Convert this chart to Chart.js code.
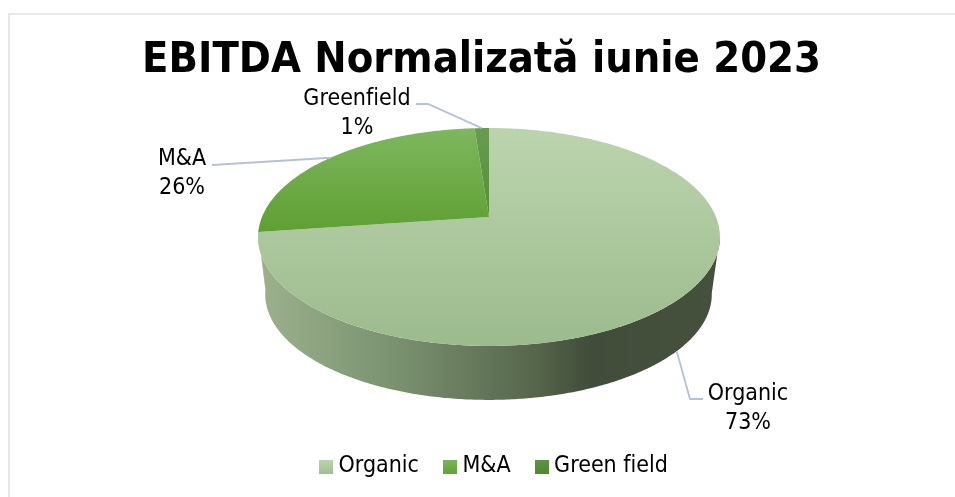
<!DOCTYPE html>
<html>
<head>
<meta charset="utf-8">
<title>EBITDA Normalizată iunie 2023</title>
<script src="https://cdn.jsdelivr.net/npm/chart.js@4"></script>
<style>
    html, body { margin: 0; padding: 0; background: #fff; overflow: hidden; }
    #cadru { position: absolute; left: 8px; top: 13px; right: 0; bottom: 0; border-left: 2px solid #e6e8ec; border-top: 2px solid #e6e8ec; }
    #grafic { position: absolute; left: 0; top: 0; }
</style>
</head>
<body>
<div id="cadru"></div>
<canvas id="grafic" width="955" height="497"></canvas>
<script>
const titlu = 'EBITDA Normalizată iunie 2023';
const categorii = ['Organic', 'M&A', 'Green field'];
const etichete = ['Organic', 'M&A', 'Greenfield'];
const valori = [72.8, 26, 1.2];

const FONT = '"DejaVu Sans Condensed", "DejaVu Sans", sans-serif';
const culoriSus = [['#bcd4ae', '#9cbb8d'], ['#7eb75f', '#5f9f32'], ['#689b51', '#548f37']];
const culoriLegenda = [['#bcd4ae', '#a2bf92'], ['#7ab659', '#62a336'], ['#5e9448', '#4f8a2e']];

// proiectie in perspectiva a discului (centrul feliilor nu e centrul elipsei)
const K = 0.1834;
const sus = { x: 489, y: 217, a: 227, b: 105.3 };
const jos = { x: 488.5, y: 275, a: 219.5, b: 102 };
const punct = (p, unghi) => {
    const u = Math.cos(unghi), v = Math.sin(unghi);
    const s = 1 / (1 - K * v);
    return { x: p.x + p.a * u * s, y: p.y + p.b * v * s };
};
const urmeazaArc = (ctx, p, a0, a1) => {
    const pasi = Math.max(2, Math.ceil(Math.abs(a1 - a0) / 0.01));
    for (let i = 0; i <= pasi; i++) {
        const q = punct(p, a0 + (a1 - a0) * i / pasi);
        ctx.lineTo(q.x, q.y);
    }
};

// pozitia textelor si a liniilor de legatura
const ghidaje = [
    { cot: [690, 399], capat: [703, 399], text: [748, 400], fata: true },
    { cot: [212, 165], capat: [212, 165], text: [182, 165], fata: false },
    { cot: [428, 104], capat: [416, 104], text: [357, 105], fata: false }
];

const patrat = (c0, c1) => {
    const c = document.createElement('canvas');
    c.width = 14; c.height = 14;
    const g = c.getContext('2d');
    const grad = g.createLinearGradient(0, 0, 0, 14);
    grad.addColorStop(0, c0);
    grad.addColorStop(1, c1);
    g.fillStyle = grad;
    g.fillRect(0, 0, 14, 14);
    return c;
};

const placinta3D = {
    id: 'placinta3D',
    afterLayout(chart) {
        // titlul si legenda nu sunt centrate pe pagina in original
        chart.titleBlock.left += 4;
        chart.titleBlock.right += 4;
        chart.legend.left += 19;
        chart.legend.right += 19;
    },
    beforeDraw(chart) {
        // fara ligatura "fi", ca in original
        chart.ctx.textRendering = 'optimizeSpeed';
    },
    beforeDatasetDraw(chart, args) {
        const ctx = chart.ctx;
        const arce = chart.getDatasetMeta(args.index).data;
        const luminaPerete = ctx.createLinearGradient(258, 0, 720, 0);
        luminaPerete.addColorStop(0, '#9cb28d');
        luminaPerete.addColorStop(0.3, '#7a9170');
        luminaPerete.addColorStop(0.6, '#56664b');
        luminaPerete.addColorStop(0.72, '#414c3a');
        luminaPerete.addColorStop(1, '#46513d');

        ctx.save();
        // peretele lateral, doar partea din fata
        const fataMin = Math.asin(K) - 0.01;
        const fataMax = Math.PI - Math.asin(K) + 0.06;
        arce.forEach(arc => {
            const a0 = Math.max(arc.startAngle, fataMin);
            const a1 = Math.min(arc.endAngle, fataMax);
            if (a1 <= a0) return;
            ctx.beginPath();
            urmeazaArc(ctx, sus, a0, a1);
            urmeazaArc(ctx, jos, a1, a0);
            ctx.closePath();
            ctx.fillStyle = luminaPerete;
            ctx.fill();
        });

        // fata de sus
        arce.forEach((arc, i) => {
            const pasi = 200;
            let yMin = sus.y, yMax = sus.y;
            for (let j = 0; j <= pasi; j++) {
                const q = punct(sus, arc.startAngle + (arc.endAngle - arc.startAngle) * j / pasi);
                yMin = Math.min(yMin, q.y);
                yMax = Math.max(yMax, q.y);
            }
            const g = ctx.createLinearGradient(0, yMin, 0, yMax);
            g.addColorStop(0, culoriSus[i][0]);
            g.addColorStop(1, culoriSus[i][1]);
            ctx.beginPath();
            ctx.moveTo(sus.x, sus.y);
            urmeazaArc(ctx, sus, arc.startAngle, arc.endAngle);
            ctx.closePath();
            ctx.fillStyle = g;
            ctx.fill();
        });

        // linii de legatura si etichete
        ctx.font = '23px ' + FONT;
        ctx.textAlign = 'center';
        ctx.textBaseline = 'alphabetic';
        arce.forEach((arc, i) => {
            const mijloc = (arc.startAngle + arc.endAngle) / 2;
            const ghid = ghidaje[i];
            const start = punct(ghid.fata ? jos : sus, mijloc);
            ctx.beginPath();
            ctx.moveTo(start.x, start.y);
            ctx.lineTo(ghid.cot[0], ghid.cot[1]);
            ctx.lineTo(ghid.capat[0], ghid.capat[1]);
            ctx.strokeStyle = '#b4c2d6';
            ctx.lineWidth = 1.8;
            ctx.stroke();
            ctx.fillStyle = '#000';
            ctx.fillText(etichete[i], ghid.text[0], ghid.text[1]);
            ctx.fillText(Math.round(valori[i]) + '%', ghid.text[0], ghid.text[1] + 29);
        });
        ctx.restore();
        return false;
    }
};

new Chart(document.getElementById('grafic'), {
    type: 'pie',
    data: {
        labels: categorii,
        datasets: [{
            data: valori,
            backgroundColor: culoriSus.map(c => c[0]),
            borderWidth: 0
        }]
    },
    plugins: [placinta3D],
    options: {
        responsive: false,
        animation: false,
        layout: { padding: { top: 35, bottom: 9 } },
        plugins: {
            tooltip: { enabled: false },
            title: {
                display: true,
                text: titlu,
                color: '#000',
                font: { family: FONT, size: 43, weight: 'bold' },
                padding: { top: 0, bottom: 0 }
            },
            legend: {
                position: 'bottom',
                labels: {
                    usePointStyle: true,
                    boxWidth: 2,
                    boxHeight: 14,
                    padding: 30,
                    color: '#000',
                    font: { family: FONT, size: 23 },
                    generateLabels: () => categorii.map((nume, i) => ({
                        text: nume,
                        index: i,
                        fontColor: '#000',
                        pointStyle: patrat(culoriLegenda[i][0], culoriLegenda[i][1])
                    }))
                }
            }
        }
    }
});
</script>
</body>
</html>
